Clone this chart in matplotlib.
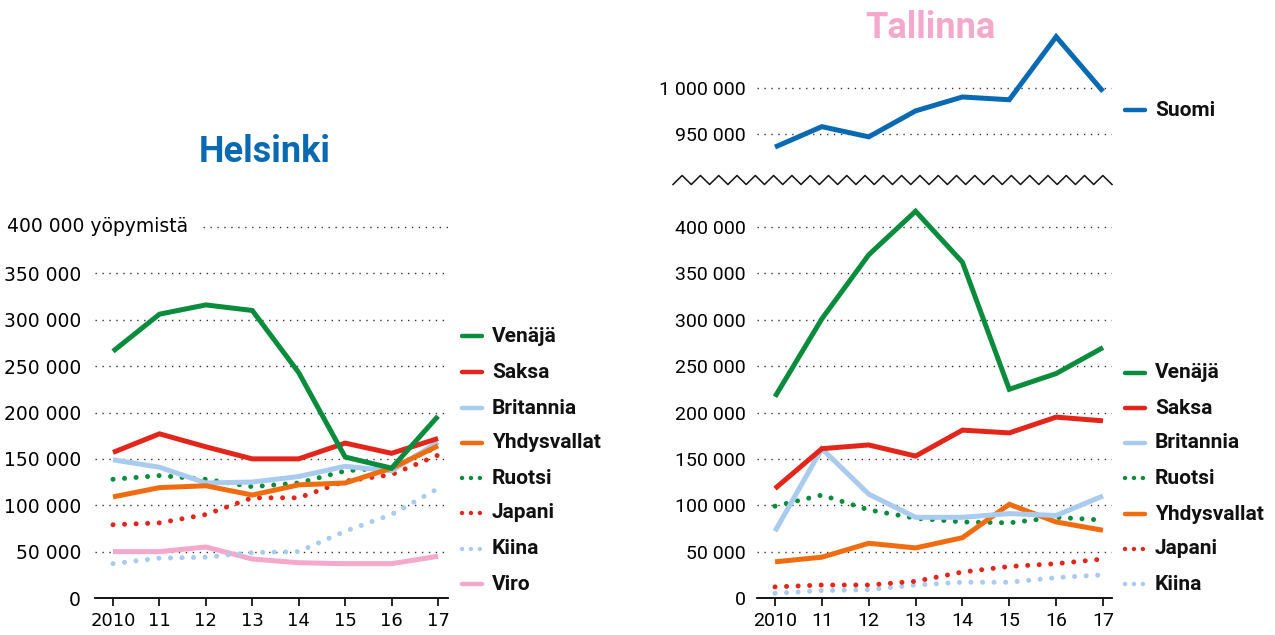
"""
Yöpymiset Helsingissä ja Tallinnassa maittain 2010-17
"""
import numpy as np
import matplotlib
matplotlib.use("Agg")
import matplotlib.pyplot as plt
from matplotlib.lines import Line2D

years = [2010, 2011, 2012, 2013, 2014, 2015, 2016, 2017]
year_labels = ["2010", "11", "12", "13", "14", "15", "16", "17"]

# Helsinki
hki_venaja = [266000, 306000, 316000, 310000, 243000, 152000, 140000, 196000]
hki_saksa = [157000, 177000, 163000, 150000, 150000, 167000, 156000, 172000]
hki_britannia = [149000, 141000, 124000, 125000, 131000, 142000, 137000, 168000]
hki_yhdysvallat = [109000, 119000, 121000, 111000, 122000, 124000, 140000, 164000]
hki_ruotsi = [128000, 132000, 128000, 120000, 124000, 137000, 141000, 163000]
hki_japani = [79000, 81000, 90000, 108000, 108000, 126000, 133000, 154000]
hki_kiina = [37000, 43000, 44000, 49000, 50000, 72000, 90000, 118000]
hki_viro = [50000, 50000, 55000, 42000, 38000, 37000, 37000, 45000]

# Tallinna
tln_suomi = [936000, 958000, 947000, 975000, 990000, 987000, 1055000, 996000]
tln_venaja = [217000, 301000, 370000, 417000, 362000, 225000, 242000, 270000]
tln_saksa = [118000, 161000, 165000, 153000, 181000, 178000, 195000, 191000]
tln_britannia = [72000, 161000, 112000, 87000, 87000, 91000, 89000, 110000]
tln_ruotsi = [99000, 111000, 95000, 86000, 82000, 81000, 87000, 84000]
tln_yhdysvallat = [39000, 44000, 59000, 54000, 65000, 101000, 82000, 73000]
tln_japani = [12000, 14000, 14000, 18000, 28000, 34000, 37000, 42000]
tln_kiina = [5000, 8000, 9000, 14000, 17000, 17000, 22000, 25000]

GREEN = "#0a8c3c"
RED = "#e3261b"
LBLUE = "#a9cbee"
ORANGE = "#f06c10"
PINK = "#f4a8cb"
BLUE = "#0a69b3"
GRID = "#333333"

W, H = 1275, 635
fig = plt.figure(figsize=(W / 100, H / 100), dpi=100)

# pixels per unit on the value axis (same in every panel)
k = (598 - 227) / 400000


def px_axes(x0, x1, ytop, ybot):
    return fig.add_axes([x0 / W, 1 - ybot / H, (x1 - x0) / W, (ybot - ytop) / H])


def fmt(v):
    return f"{v:,}".replace(",", " ")


LW = 3.6
DOT = (0, (0.01, 2.3))


def draw(ax, vals, color, dotted=False):
    if dotted:
        ax.plot(years, vals, color=color, lw=LW, linestyle=DOT,
                dash_capstyle="round", clip_on=False)
    else:
        ax.plot(years, vals, color=color, lw=LW, solid_capstyle="butt",
                solid_joinstyle="miter", clip_on=False)


def setup_main(ax, x0, x1, x_first, x_last, font, fs):
    step = (x_last - x_first) / 7
    ax.set_xlim(2010 - (x_first - x0) / step, 2017 + (x1 - x_last) / step)
    ax.set_ylim(0, (598 - 200) / k)
    for s in ["top", "right", "left"]:
        ax.spines[s].set_visible(False)
    ax.spines["bottom"].set_linewidth(1.3)
    ax.set_xticks(years)
    ax.set_xticklabels(year_labels, fontsize=fs, family=font)
    ax.tick_params(axis="x", direction="out", length=6, width=1.2, pad=4)
    ax.patch.set_alpha(0)


def legend(entries, x_handle, x_text, ys, fs=15):
    for (label, color, dotted), y in zip(entries, ys):
        yf = 1 - y / H
        ln = Line2D([x_handle / W, (x_handle + 20) / W], [yf, yf], transform=fig.transFigure,
                    color=color, lw=3.2, linestyle=(0, (0.01, 2.0)) if dotted else "-",
                    dash_capstyle="round", solid_capstyle="round")
        fig.add_artist(ln)
        fig.text(x_text / W, yf, label, fontsize=fs, fontweight="bold", family="Roboto",
                 va="center", ha="left", color="#111111")


# ---------------- Helsinki ----------------
ax1 = px_axes(95, 448, 200, 598)
setup_main(ax1, 95, 448, 113, 438, "DejaVu Sans", 13)
ticks1 = [0, 50000, 100000, 150000, 200000, 250000, 300000, 350000]
ax1.set_yticks(ticks1)
ax1.set_yticklabels([fmt(t) for t in ticks1], fontsize=13.5, family="DejaVu Sans")
ax1.tick_params(axis="y", length=0, pad=10)
for t in ticks1[1:]:
    ax1.axhline(t, color=GRID, lw=1, linestyle=(0, (1, 4)), zorder=0)
ax1.axhline(400000, xmin=(203 - 95) / (448 - 95), color=GRID, lw=1,
            linestyle=(0, (1, 4)), zorder=0, clip_on=False)
ax1.text((7 - 95) / (448 - 95), 400000, "400 000 yöpymistä", transform=ax1.get_yaxis_transform(),
         fontsize=13.5, family="DejaVu Sans", va="center", ha="left")

draw(ax1, hki_viro, PINK)
draw(ax1, hki_kiina, LBLUE, True)
draw(ax1, hki_japani, RED, True)
draw(ax1, hki_ruotsi, GREEN, True)
draw(ax1, hki_britannia, LBLUE)
draw(ax1, hki_yhdysvallat, ORANGE)
draw(ax1, hki_saksa, RED)
draw(ax1, hki_venaja, GREEN)

fig.text(265 / W, 1 - 152 / H, "Helsinki", fontsize=26, fontweight="bold", family="Roboto",
         color=BLUE, ha="center", va="center")

legend([("Venäjä", GREEN, False), ("Saksa", RED, False), ("Britannia", LBLUE, False),
        ("Yhdysvallat", ORANGE, False), ("Ruotsi", GREEN, True), ("Japani", RED, True),
        ("Kiina", LBLUE, True), ("Viro", PINK, False)],
       462, 492, [336, 372, 408, 443, 478, 513, 549, 584])

# ---------------- Tallinna ----------------
ax2 = px_axes(757, 1112, 200, 598)
setup_main(ax2, 757, 1112, 775, 1103, "Roboto", 14)
ticks2 = [0, 50000, 100000, 150000, 200000, 250000, 300000, 350000, 400000]
ax2.set_yticks(ticks2)
ax2.set_yticklabels([fmt(t) for t in ticks2], fontsize=14, family="Roboto")
ax2.tick_params(axis="y", length=0, pad=8)
for t in ticks2[1:]:
    ax2.axhline(t, color=GRID, lw=1, linestyle=(0, (1, 4)), zorder=0)

draw(ax2, tln_kiina, LBLUE, True)
draw(ax2, tln_japani, RED, True)
draw(ax2, tln_ruotsi, GREEN, True)
draw(ax2, tln_yhdysvallat, ORANGE)
draw(ax2, tln_britannia, LBLUE)
draw(ax2, tln_saksa, RED)
draw(ax2, tln_venaja, GREEN)

legend([("Venäjä", GREEN, False), ("Saksa", RED, False), ("Britannia", LBLUE, False),
        ("Ruotsi", GREEN, True), ("Yhdysvallat", ORANGE, False), ("Japani", RED, True),
        ("Kiina", LBLUE, True)],
       1125, 1155, [373, 408, 443, 478, 514, 549, 584])

# top part: Suomi
ax3 = px_axes(757, 1112, 20, 170)
ax3.set_xlim(ax2.get_xlim())
ax3.set_ylim(1000000 - (170 - 87.7) / k, 1000000 + (87.7 - 20) / k)
for s in ax3.spines.values():
    s.set_visible(False)
ax3.set_xticks([])
ticks3 = [950000, 1000000]
ax3.set_yticks(ticks3)
ax3.set_yticklabels([fmt(t) for t in ticks3], fontsize=14, family="Roboto")
ax3.tick_params(axis="y", length=0, pad=8)
for t in ticks3:
    ax3.axhline(t, color=GRID, lw=1, linestyle=(0, (1, 4)), zorder=0)
ax3.patch.set_alpha(0)
draw(ax3, tln_suomi, BLUE)
legend([("Suomi", BLUE, False)], 1125, 1155, [110])

fig.text(930 / W, 1 - 28 / H, "Tallinna", fontsize=26, fontweight="bold", family="Roboto",
         color=PINK, ha="center", va="center")

# break marker (zigzag) between the two Tallinna panels
zx = np.linspace(673, 1112, 49)
zy = 180 + np.where(np.arange(49) % 2 == 0, 4.5, -4.5)
fig.add_artist(Line2D(zx / W, 1 - zy / H, transform=fig.transFigure, color="#111111", lw=1.1))

fig.savefig("out.png", dpi=100)
